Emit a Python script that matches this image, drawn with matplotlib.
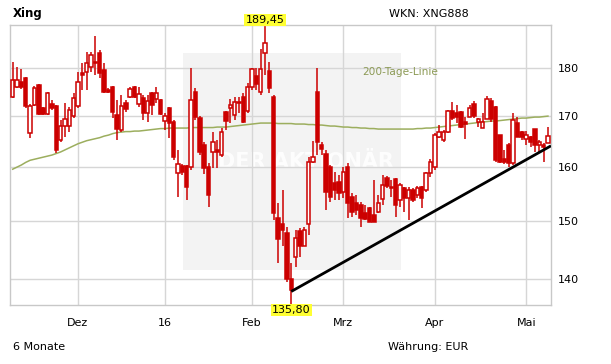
import matplotlib.pyplot as plt
import matplotlib.patches as mpatches
from matplotlib.ticker import FixedLocator, NullLocator, FuncFormatter
import numpy as np

# daily candles, Xing (6 months)
opens = [173.9, 176.0, 177.0, 177.9, 166.6, 172.3, 176.4, 171.7, 170.4, 172.5,
         172.1, 165.3, 168.0, 168.0, 170.0, 172.1, 178.9, 179.2, 180.2, 181.3,
         183.2, 179.6, 175.4, 176.0, 170.2, 167.2, 172.7, 173.9, 176.0, 172.5,
         173.7, 170.6, 174.7, 173.5, 173.3, 169.0, 171.7, 168.8, 158.9, 160.2,
         160.2, 160.0, 174.9, 169.6, 164.3, 160.0, 162.9, 163.3, 162.3, 170.8,
         171.7, 170.2, 172.9, 173.9, 171.0, 176.0, 178.3, 174.9, 183.2, 179.4,
         173.9, 150.6, 149.6, 148.0, 140.1, 143.7, 148.3, 145.7, 149.6, 161.0,
         174.9, 164.3, 162.5, 160.0, 157.0, 157.2, 155.4, 160.0, 154.5, 153.4,
         153.0, 151.5, 152.4, 151.2, 151.7, 154.1, 158.0, 156.3, 157.8, 153.9,
         156.1, 154.3, 155.7, 154.8, 156.3, 155.7, 158.9, 160.0, 165.8, 165.3,
         166.8, 171.0, 170.6, 170.8, 168.8, 169.8, 172.5, 168.8, 167.6, 169.4,
         173.1, 171.9, 166.2, 161.6, 164.3, 160.8, 168.6, 166.8, 165.5, 165.8,
         167.4, 164.3, 164.3, 164.7]
highs = [181.3, 180.2, 179.8, 178.1, 172.5, 176.2, 176.6, 171.9, 175.0, 173.3,
         172.3, 169.2, 172.7, 171.9, 174.7, 179.2, 181.1, 183.5, 183.5, 187.0,
         183.9, 181.1, 175.8, 176.2, 173.3, 174.3, 173.3, 176.0, 176.2, 176.0,
         174.3, 174.3, 174.9, 176.0, 173.5, 170.6, 171.9, 169.2, 163.3, 160.6,
         160.4, 180.0, 175.8, 170.0, 164.9, 160.8, 166.8, 165.3, 167.6, 171.0,
         173.5, 173.9, 173.9, 174.7, 176.8, 180.0, 180.0, 184.1, 189.45, 181.3,
         174.3, 153.3, 155.7, 149.0, 142.8, 148.5, 148.9, 149.0, 162.0, 165.1,
         180.0, 164.9, 163.3, 160.4, 159.1, 158.5, 160.0, 160.8, 155.2, 154.8,
         153.5, 153.0, 152.6, 157.6, 154.8, 158.5, 158.4, 157.6, 158.0, 157.0,
         156.3, 156.3, 156.1, 156.5, 156.5, 159.1, 161.6, 166.6, 168.2, 167.2,
         171.2, 172.9, 172.3, 171.0, 169.8, 172.3, 173.1, 169.6, 170.6, 174.1,
         173.7, 172.1, 166.2, 163.3, 164.7, 170.6, 169.8, 167.0, 167.0, 166.0,
         167.4, 165.3, 164.7, 167.8]
lows = [173.7, 175.8, 175.6, 171.7, 165.7, 172.1, 170.2, 170.2, 170.2, 171.3,
        162.7, 164.9, 165.8, 166.8, 169.6, 171.7, 175.4, 175.4, 179.2, 178.5,
        177.9, 174.7, 174.7, 169.6, 165.3, 166.8, 170.8, 173.7, 173.7, 171.9,
        169.2, 168.8, 170.2, 172.7, 170.2, 167.2, 165.7, 161.4, 154.5, 158.5,
        153.9, 159.5, 169.2, 162.3, 158.7, 152.6, 159.9, 159.9, 162.0, 167.2,
        168.6, 169.2, 170.6, 168.6, 170.6, 175.4, 175.4, 174.3, 178.5, 174.7,
        150.3, 142.8, 145.6, 139.6, 135.8, 142.0, 143.7, 145.6, 147.6, 160.8,
        162.3, 162.3, 152.1, 153.5, 153.9, 153.9, 154.3, 150.6, 150.8, 151.2,
        149.0, 150.3, 149.8, 149.8, 151.5, 153.0, 156.1, 154.5, 150.8, 152.6,
        151.7, 150.3, 153.5, 154.3, 152.4, 155.4, 158.2, 159.5, 165.7, 164.9,
        166.6, 169.2, 168.6, 167.6, 165.5, 169.8, 169.6, 167.8, 167.6, 169.4,
        168.8, 161.0, 160.8, 160.6, 160.0, 160.4, 165.8, 165.3, 164.3, 163.9,
        162.9, 162.7, 161.0, 164.7]
closes = [177.5, 177.5, 176.0, 172.1, 172.1, 175.8, 170.4, 170.4, 174.7, 171.7,
          163.3, 168.0, 169.4, 171.3, 173.7, 177.0, 178.5, 181.1, 182.8, 181.1,
          178.9, 174.9, 174.9, 170.8, 167.4, 172.1, 171.5, 175.6, 173.9, 174.5,
          170.6, 173.1, 172.3, 174.7, 170.4, 170.0, 168.6, 162.0, 160.6, 159.1,
          156.3, 173.3, 169.8, 162.9, 159.9, 154.8, 164.9, 162.9, 166.8, 169.0,
          172.3, 172.9, 172.7, 168.8, 176.0, 179.8, 176.6, 179.8, 185.4, 175.8,
          151.5, 146.8, 148.5, 140.0, 138.3, 147.1, 145.7, 148.5, 161.0, 162.0,
          164.9, 163.5, 155.4, 154.5, 155.7, 155.2, 159.1, 153.4, 151.7, 152.1,
          150.6, 150.5, 149.9, 149.9, 153.4, 156.7, 156.5, 156.1, 153.0, 156.7,
          154.3, 155.7, 153.9, 156.1, 154.3, 158.9, 161.0, 166.2, 166.8, 166.8,
          171.0, 169.6, 169.8, 167.8, 168.4, 171.7, 170.0, 169.4, 168.8, 173.5,
          169.4, 161.4, 161.0, 161.0, 160.8, 169.2, 165.8, 165.8, 166.2, 164.9,
          164.3, 164.9, 163.9, 166.0]

# 200-day moving average, one value per candle
ma200 = [159.6, 160.0, 160.4, 160.9, 161.3, 161.5, 161.7, 161.9, 162.1, 162.3,
         162.6, 162.9, 163.3, 163.7, 164.1, 164.5, 164.8, 165.1, 165.3, 165.5,
         165.7, 166.0, 166.2, 166.5, 166.7, 166.8, 166.9, 166.9, 167.0, 167.0,
         167.1, 167.2, 167.3, 167.4, 167.5, 167.5, 167.6, 167.6, 167.6, 167.6,
         167.6, 167.7, 167.7, 167.7, 167.7, 167.7, 167.7, 167.8, 167.8, 167.8,
         167.9, 168.0, 168.1, 168.2, 168.3, 168.4, 168.5, 168.6, 168.6, 168.6,
         168.6, 168.5, 168.5, 168.5, 168.5, 168.4, 168.4, 168.4, 168.3, 168.3,
         168.2, 168.2, 168.1, 168.0, 168.0, 167.9, 167.8, 167.8, 167.7, 167.7,
         167.6, 167.6, 167.5, 167.5, 167.4, 167.4, 167.4, 167.4, 167.4, 167.4,
         167.4, 167.4, 167.4, 167.5, 167.5, 167.6, 167.6, 167.7, 167.8, 167.9,
         168.0, 168.1, 168.2, 168.3, 168.4, 168.5, 168.6, 168.7, 168.8, 168.9,
         169.0, 169.0, 169.1, 169.2, 169.3, 169.4, 169.5, 169.6, 169.6, 169.7,
         169.8, 169.8, 169.9, 170.0]

# trend line (candle index, price)
trend_idx = [64, 123.7]
trend_val = [138.0, 164.1]

# first trading day of each month (candle index) and labels
month_idx = [15, 35, 55, 76, 97, 118]
month_labels = ["Dez", "16", "Feb", "Mrz", "Apr", "Mai"]
y_ticks = [140, 150, 160, 170, 180]

RED = "#cc0000"
GRID = "#d6d6d6"

o = np.array(opens)
h = np.array(highs)
l = np.array(lows)
c = np.array(closes)
x = np.arange(len(o))
up = c >= o

fig = plt.figure(figsize=(6.11, 3.64), dpi=100)
W, H = 611, 364
ax = fig.add_axes([10 / W, 1 - 305 / H, 541 / W, 280 / H])
ax.set_yscale("log")

# watermark
ax.add_patch(mpatches.Rectangle((0.32, 0.125), 0.403, 0.775, transform=ax.transAxes,
                                facecolor="#f3f3f3", edgecolor="none", zorder=0.1))
ax.text(0.547, 0.51, "DER AKTIONÄR", transform=ax.transAxes, ha="center", va="center",
        fontsize=15, fontweight="bold", color="white", alpha=0.85, zorder=0.3)

# wicks and bodies
ax.vlines(x, l, h, color=RED, lw=1.1, zorder=2)
bottom = np.minimum(o, c)
height = np.maximum(np.abs(c - o), 0.15)
ax.bar(x[up], height[up], bottom=bottom[up], width=0.78, facecolor="white",
       edgecolor=RED, linewidth=1.1, zorder=3)
ax.bar(x[~up], height[~up], bottom=bottom[~up], width=0.78, facecolor=RED,
       edgecolor=RED, linewidth=1.1, zorder=3)

# 200-day line
ax.plot(x, ma200, color="#9cae5e", lw=1.1, zorder=1.5)
fig.text(362 / W, 1 - 72 / H, "200-Tage-Linie", color="#8c9a55", fontsize=7.6,
         va="center", ha="left")

# trend line
ax.plot(trend_idx, trend_val, color="black", lw=2, zorder=4, solid_capstyle="butt")

# high / low labels
imax, imin = int(np.argmax(h)), int(np.argmin(l))
fmt = lambda v: f"{v:.2f}".replace(".", ",")
ax.text(imax, h[imax], fmt(h[imax]), ha="center", va="bottom", fontsize=8,
        bbox=dict(facecolor="#ffff33", edgecolor="none", pad=1), zorder=5, clip_on=False)
ax.text(imin, l[imin], fmt(l[imin]), ha="center", va="top", fontsize=8,
        bbox=dict(facecolor="#ffff33", edgecolor="none", pad=1), zorder=5, clip_on=False)

ax.set_xlim(-0.62, 123.7)
ax.set_ylim(l.min(), h.max())

ax.yaxis.set_major_locator(FixedLocator(y_ticks))
ax.yaxis.set_minor_locator(NullLocator())
ax.yaxis.set_major_formatter(FuncFormatter(lambda v, p: f"{v:.0f}"))
ax.yaxis.tick_right()
ax.set_xticks(month_idx)
ax.set_xticklabels(month_labels)
ax.tick_params(axis="both", length=0, labelsize=8, colors="black")
ax.tick_params(axis="x", pad=9)
ax.tick_params(axis="y", pad=5)
ax.grid(True, color=GRID, lw=1)
ax.set_axisbelow(True)
for s in ax.spines.values():
    s.set_color("#c8c8c8")
    s.set_linewidth(1)

fig.text(13 / W, 1 - 13 / H, "Xing", fontsize=8.5, fontweight="bold", va="center")
fig.text(389 / W, 1 - 14 / H, "WKN: XNG888", fontsize=8, va="center")
fig.text(13 / W, 1 - 347 / H, "6 Monate", fontsize=8, va="center")
fig.text(388 / W, 1 - 347 / H, "Währung: EUR", fontsize=8, va="center")

fig.savefig("out.png", dpi=100, facecolor="white")
